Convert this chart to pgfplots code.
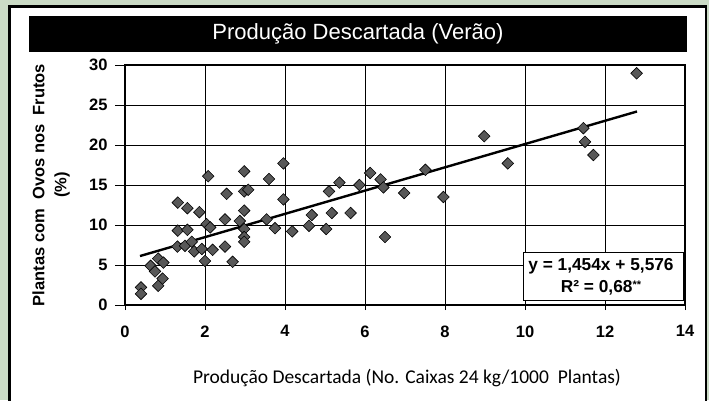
\documentclass[border=0pt]{standalone}
\usepackage{fontspec}
\setmainfont{Liberation Sans}
\newfontfamily\calibri{Carlito}
\usepackage{pgfplots}
\pgfplotsset{compat=1.18}
\definecolor{bggreen}{RGB}{203,219,198}
\definecolor{markgray}{RGB}{88,88,88}
\pgfplotstableread{
x y
0.40 2.2
0.40 1.4
0.83 2.4
0.94 3.3
0.64 4.9
0.75 4.2
0.83 5.8
0.96 5.3
1.32 12.8
1.56 12.1
1.86 11.6
1.32 9.3
1.56 9.4
1.31 7.3
1.50 7.4
1.67 7.9
1.73 6.7
1.92 7.0
2.00 5.5
2.04 10.1
2.13 9.7
2.08 16.1
2.19 6.9
2.50 7.3
2.69 5.4
2.54 13.9
2.50 10.7
2.87 10.5
2.98 16.7
2.98 14.2
3.08 14.4
2.98 11.8
2.98 9.5
2.98 8.5
2.98 7.9
3.60 15.75
3.54 10.7
3.75 9.6
3.96 17.7
3.96 13.2
4.18 9.2
4.60 9.9
4.67 11.25
5.03 9.5
5.10 14.2
5.17 11.5
5.36 15.3
5.64 11.5
5.86 15.0
6.13 16.5
6.39 15.7
6.46 14.7
6.50 8.5
6.98 14.0
7.51 16.9
7.96 13.5
8.98 21.1
9.57 17.7
11.46 22.1
11.50 20.4
11.71 18.75
12.79 28.96
}\pts
\begin{document}
\begin{tikzpicture}[x=1pt,y=1pt]
\useasboundingbox (0,0) rectangle (709,400);
\fill[bggreen] (0,0) rectangle (709,400);
\filldraw[fill=white,draw=black,line width=2.5pt] (9.5,-10) rectangle (706,393.5);
\fill[black] (29,348) rectangle (687,384);
\node[text=white,font=\fontsize{22}{22}\selectfont] at (358,366) {Produção Descartada (Verão)};
\begin{axis}[
  at={(125pt,95pt)}, anchor=south west,
  width=560pt, height=240pt, scale only axis,
  xmin=0,xmax=14,ymin=0,ymax=30,
  xtick={0,2,...,14}, ytick={0,5,...,30},
  xtick pos=bottom, ytick pos=left,
  xtick align=center, ytick align=outside,
  major tick length=10pt,
  tick style={black,line width=1pt},
  grid=major, grid style={black, line width=0.9pt},
  axis line style={black,line width=1.2pt},
  /pgf/number format/assume math mode=true,
  xticklabel style={font=\bfseries\fontsize{16.5}{16.5}\selectfont, yshift=-12pt},
  yticklabel style={font=\bfseries\fontsize{16.5}{16.5}\selectfont, xshift=-4pt},
  clip=false,
]
\addplot[only marks, mark=square*, mark size=4.1pt,
  mark options={rotate=45, fill=markgray, draw=black, line width=0.6pt}] table[x=x,y=y] {\pts};
\addplot[black, line width=2.4pt] coordinates {(0.375,6.12) (12.8,24.19)};
\end{axis}
\node[rotate=90, align=center, font=\bfseries\fontsize{16.5}{22}\selectfont] at (51,215) {Plantas com\ \ Ovos nos\ \ Frutos\\(\%)};
\node[font=\calibri\fontsize{19.5}{19.5}\selectfont] at (407,22) {Produção Descartada (No. Caixas 24 kg/1000\ \ Plantas)};
\node[draw=black, fill=white, line width=0.8pt, minimum width=160pt, minimum height=48pt, inner sep=0pt] at (603,124) {};
\node[font=\bfseries\fontsize{17.3}{17.3}\selectfont] at (601,134) {y = 1,454x + 5,576};
\node[font=\bfseries\fontsize{17.3}{17.3}\selectfont] at (601,112) {R² = 0,68{\fontsize{11}{11}\selectfont\raisebox{4pt}{**}}};
\end{tikzpicture}
\end{document}
